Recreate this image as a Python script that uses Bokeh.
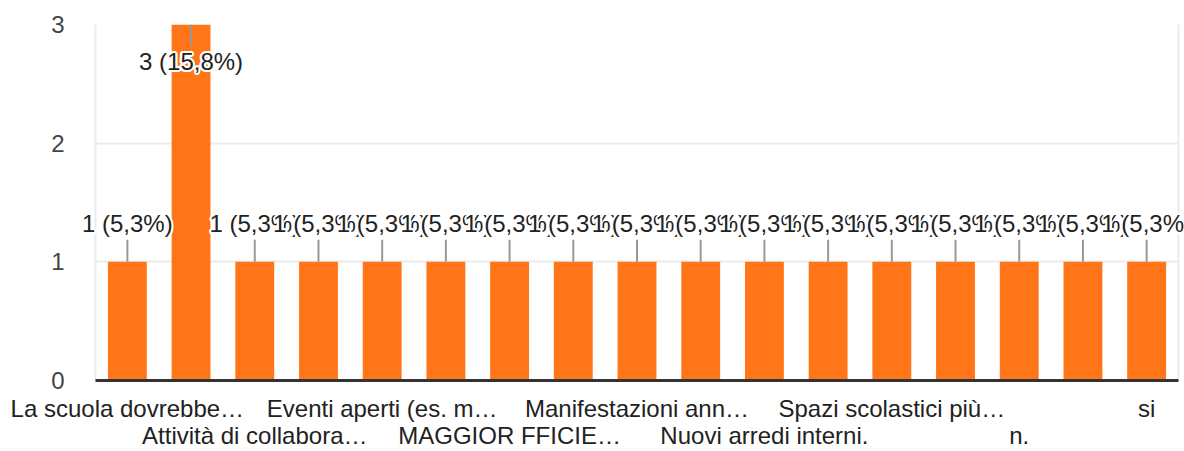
import math
from bokeh.plotting import figure
from bokeh.models import Range1d, FixedTicker, LinearAxis, ColumnDataSource, Label
from bokeh.embed import file_html
from bokeh.resources import INLINE

# ---- data ----
categories = [
    "La scuola dovrebbe…", "", "Attività di collabora…", "", "Eventi aperti (es. m…", "",
    "MAGGIOR FFICIE…", "", "Manifestazioni ann…", "", "Nuovi arredi interni.", "",
    "Spazi scolastici più…", "", "n.", "", "si",
]
counts = [1, 3, 1, 1, 1, 1, 1, 1, 1, 1, 1, 1, 1, 1, 1, 1, 1]
y_ticks = [0, 1, 2, 3]

FONT = "Liberation Sans"
ORANGE = "#FF7518"
TXT = "#222222"
GRID = "#ebebeb"
FS = "24px"

total = sum(counts)
n = len(counts)
idx = list(range(n))
labels = [f"{c} ({c / total * 100:.1f}%)".replace(".", ",") for c in counts]

W, H = 1184, 451
CHART_L, CHART_R = 95, 1178       # visible chart box (px)
FL = 78                           # frame extended left so labels are not clipped
MT, MB = 24, 71
cat_px = (CHART_R - CHART_L) / n
x_start = -0.5 - (CHART_L - FL) / cat_px
x_end = n - 0.5 + (W - CHART_R) / cat_px
frame_h = H - MT - MB
ymax = 3
ppu = frame_h / ymax  # pixels per unit

cmax = max(counts)
inside = [c == cmax for c in counts]
lab_off = [-37 if i else 38 for i in inside]  # Label: positive offset = up
seg_end = [c - 21 / ppu if i else c + 22 / ppu for c, i in zip(counts, inside)]

src = ColumnDataSource(dict(x=idx, top=counts, y1=seg_end))

p = figure(width=W, height=H, output_backend="svg", toolbar_location=None,
           x_range=Range1d(x_start, x_end), y_range=Range1d(0, ymax),
           min_border_left=FL, min_border_right=0, min_border_top=MT, min_border_bottom=MB,
           x_axis_location=None)
p.outline_line_color = None
p.background_fill_color = "white"
p.border_fill_color = "white"

# y grid restricted to the chart box
p.ygrid.grid_line_color = GRID
p.ygrid.grid_line_width = 2
try:
    p.ygrid.cross_bounds = (-0.5, n - 0.5)
except Exception:
    pass
p.xgrid.grid_line_color = None
# left / right borders of the chart box
p.segment(x0=[-0.5, n - 0.5], y0=[0, 0], x1=[-0.5, n - 0.5], y1=[ymax, ymax],
          line_color=GRID, line_width=2)

p.vbar(x="x", top="top", width=0.61, color=ORANGE, line_color=None, source=src)
p.segment(x0="x", y0="top", x1="x", y1="y1", line_color="#999999", line_width=2, source=src)

# data labels with a white halo, drawn left to right (each one over the previous)
R = 2.0
dirs = [(R * math.cos(a * math.pi / 8), R * math.sin(a * math.pi / 8)) for a in range(16)]
for i in idx:
    for dx, dy in dirs:
        p.add_layout(Label(x=idx[i], y=counts[i], text=labels[i],
                           x_offset=dx, y_offset=lab_off[i] + dy,
                           text_font=FONT, text_font_size=FS, text_color="white",
                           text_align="center", text_baseline="middle"))
    p.add_layout(Label(x=idx[i], y=counts[i], text=labels[i], y_offset=lab_off[i],
                       text_font=FONT, text_font_size=FS, text_color=TXT,
                       text_align="center", text_baseline="middle"))

# y axis
p.yaxis.ticker = FixedTicker(ticks=y_ticks)
p.yaxis.axis_line_color = None
p.yaxis.major_tick_line_color = None
p.yaxis.minor_tick_line_color = None
p.yaxis.major_label_text_font = FONT
p.yaxis.major_label_text_font_size = FS
p.yaxis.major_label_text_color = "#444444"
p.yaxis.major_label_standoff = 25 - (CHART_L - FL)

row1 = [i for i in idx if categories[i] and (i // 2) % 2 == 0]
row2 = [i for i in idx if categories[i] and (i // 2) % 2 == 1]

ax1 = LinearAxis(ticker=FixedTicker(ticks=row1),
                 major_label_overrides={i: categories[i] for i in row1})
ax1.axis_line_color = "#333333"
ax1.axis_line_width = 3
ax1.bounds = (-0.5, n - 0.5)
ax2 = LinearAxis(ticker=FixedTicker(ticks=row2),
                 major_label_overrides={i: categories[i] for i in row2})
ax2.axis_line_color = None
for ax in (ax1, ax2):
    ax.major_tick_line_color = None
    ax.minor_tick_line_color = None
    ax.major_label_text_font = FONT
    ax.major_label_text_font_size = FS
    ax.major_label_text_color = TXT
ax1.major_label_standoff = 8
ax2.major_label_standoff = -9
p.add_layout(ax1, "below")
p.add_layout(ax2, "below")

open("out.html", "w").write(file_html(p, INLINE))
